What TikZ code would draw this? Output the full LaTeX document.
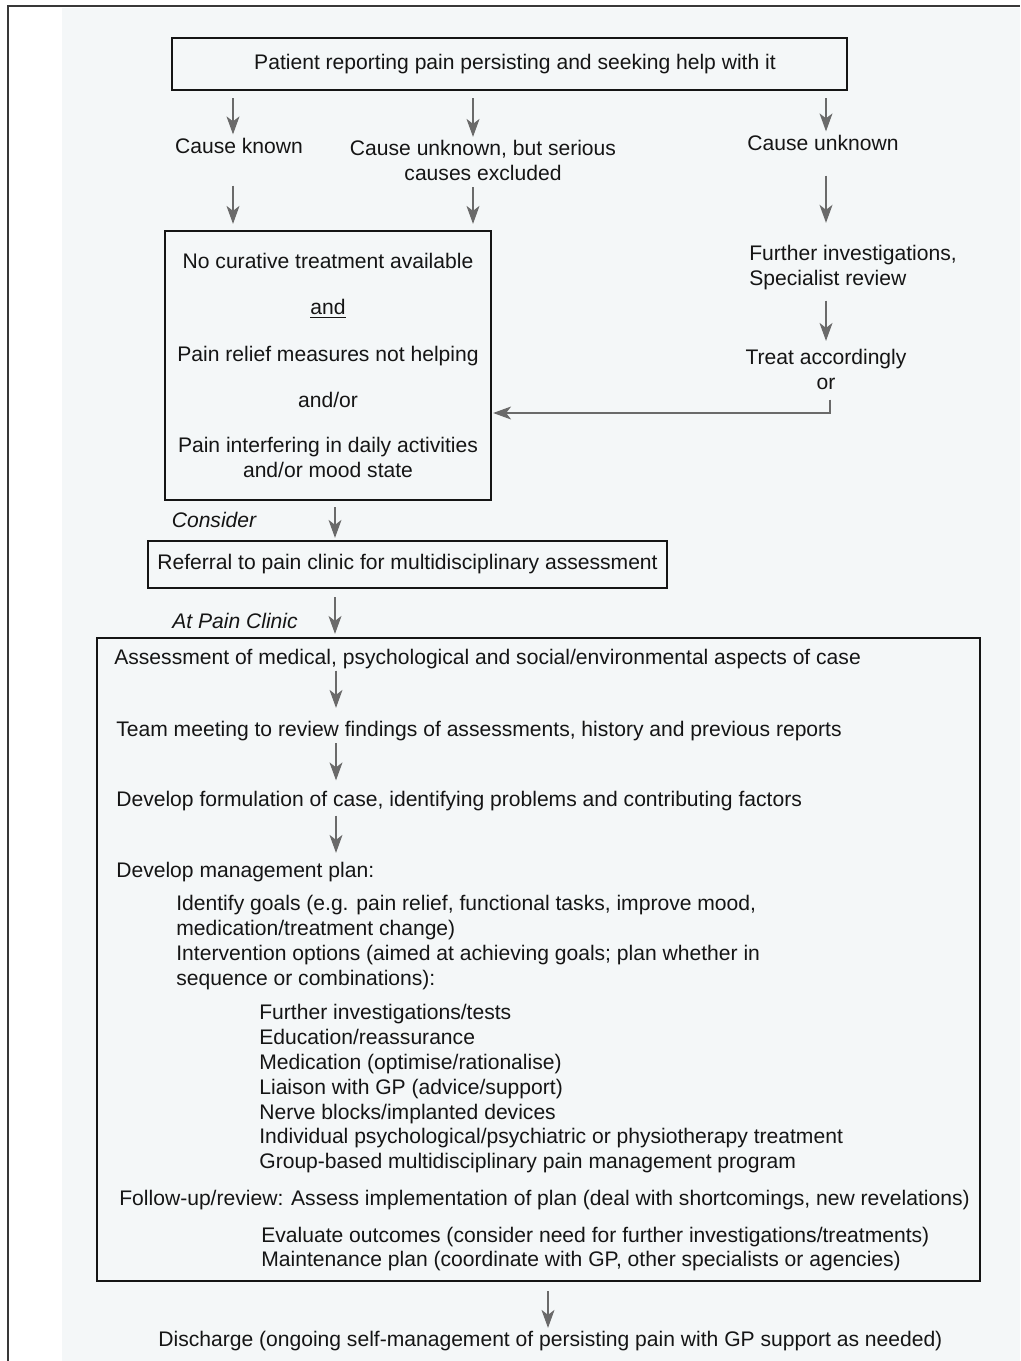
\documentclass[tikz,border=0pt]{standalone}
\usepackage{fontspec}
\setmainfont{Liberation Sans}
\usetikzlibrary{arrows.meta}
\definecolor{ink}{HTML}{151515}
\definecolor{arrowgray}{HTML}{6A6A6A}
\definecolor{paper}{HTML}{F4F7F8}
\begin{document}
\begin{tikzpicture}[x=0.02cm, y=-0.02cm,
  every node/.style={font=\fontsize{12}{14.23}\selectfont, text=ink, inner sep=0pt},
  box/.style={draw=ink, line width=1.3pt},
  txt/.style={anchor=base west},
  ctr/.style={anchor=base},
  arr/.style={draw=arrowgray, line width=0.7pt, -{Stealth[length=0.36cm, width=0.26cm, inset=0.1cm]}},
  lab/.style={anchor=base, font=\fontsize{12}{14.23}\selectfont\itshape}
]
\useasboundingbox (0,0) rectangle (1020,1361);
\fill[paper] (62,8) rectangle (1020,1361);
\draw[ink!85, line width=1.1pt] (8,1361) -- (8,6) -- (1020,6);

% columns for arrows
\coordinate (xa) at (233,0);
\coordinate (xb) at (473,0);
\coordinate (xc) at (826,0);
\coordinate (xm) at (335,0);
\coordinate (xi) at (336,0);
\coordinate (xd) at (548,0);
\coordinate (xo) at (830,413);

% top part
\node[box, minimum width=13.5cm, minimum height=1.04cm] (p1) at (509.5,64) {\hspace*{0.22cm}Patient reporting pain persisting and seeking help with it};
\node[ctr] (ck) at (239,154) {Cause known};
\node[align=center] (cu) at (483,160) {Cause unknown, but serious\\causes excluded};
\node[ctr] (cn) at (823,151) {Cause unknown};

\node[box, align=center, minimum width=6.52cm, minimum height=5.38cm] (box2) at (328,365.5)
  {No curative treatment available\\[0.42cm]\underline{and}\\[0.44cm]Pain relief measures not helping\\[0.42cm]and/or\\[0.4cm]Pain interfering in daily activities\\and/or mood state};

\node[align=left, anchor=west] (fi) at (749,268) {Further investigations,\\Specialist review};
\node[align=center] (tr) at (826,369) {Treat accordingly\\or};

\node[lab] (cons) at (214,527) {Consider};
\node[box, minimum width=10.38cm, minimum height=0.94cm] (box3) at (407.5,564.5) {Referral to pain clinic for multidisciplinary assessment};
\node[lab] (apc) at (235,628) {At Pain Clinic};

% big box
\node[box, minimum width=17.66cm, minimum height=12.86cm] (big) at (538.5,959.5) {};
\node[txt] (a1) at (114,664) {Assessment of medical, psychological and social/environmental aspects of case};
\node[txt] (a2) at (116,736) {Team meeting to review findings of assessments, history and previous reports};
\node[txt] (a3) at (116,806) {Develop formulation of case, identifying problems and contributing factors};
\node[txt] (a4) at (116,877) {Develop management plan:};
\node[txt] (g1) at (176,910) {Identify goals (e.g. pain relief, functional tasks, improve mood,};
\node[txt] (g2) at (176,935) {medication/treatment change)};
\node[txt] (g3) at (176,960) {Intervention options (aimed at achieving goals; plan whether in};
\node[txt] (g4) at (176,985) {sequence or combinations):};
\node[txt] (o1) at (259,1019) {Further investigations/tests};
\node[txt] (o2) at (259,1044) {Education/reassurance};
\node[txt] (o3) at (259,1069) {Medication (optimise/rationalise)};
\node[txt] (o4) at (259,1094) {Liaison with GP (advice/support)};
\node[txt] (o5) at (259,1119) {Nerve blocks/implanted devices};
\node[txt] (o6) at (259,1143) {Individual psychological/psychiatric or physiotherapy treatment};
\node[txt] (o7) at (259,1168) {Group-based multidisciplinary pain management program};
\node[txt] (f1) at (119,1205) {Follow-up/review: Assess implementation of plan (deal with shortcomings, new revelations)};
\node[txt] (e1) at (261,1242) {Evaluate outcomes (consider need for further investigations/treatments)};
\node[txt] (e2) at (261,1266) {Maintenance plan (coordinate with GP, other specialists or agencies)};

\node[txt] (dis) at (158,1346) {Discharge (ongoing self-management of persisting pain with GP support as needed)};

% connectors
\draw[arr, shorten <=0.14cm, shorten >=0.08cm] (p1.south -| xa) -- (ck.north -| xa);
\draw[arr, shorten <=0.14cm, shorten >=0.05cm] (p1.south -| xb) -- (cu.north -| xb);
\draw[arr, shorten <=0.14cm, shorten >=0.08cm] (p1.south -| xc) -- (cn.north -| xc);
\draw[arr, shorten <=0.62cm, shorten >=0.12cm] (ck.south -| xa) -- (box2.north -| xa);
\draw[arr, shorten <=0.13cm, shorten >=0.12cm] (cu.south -| xb) -- (box2.north -| xb);
\draw[arr, shorten <=0.48cm, shorten >=0.45cm] (cn.south -| xc) -- (fi.north -| xc);
\draw[arr, shorten <=0.2cm, shorten >=0.15cm] (fi.south -| xc) -- (tr.north -| xc);
\draw[arr, shorten <=0.2cm, shorten >=0.02cm] (tr.south -| xo) |- (box2.east |- xo);
\draw[arr, shorten <=0.12cm, shorten >=0.04cm] (box2.south -| xm) -- (box3.north -| xm);
\draw[arr, shorten <=0.16cm, shorten >=0.06cm] (box3.south -| xm) -- (big.north -| xm);
\draw[arr, shorten <=0.04cm, shorten >=0.25cm] (a1.south -| xi) -- (a2.north -| xi);
\draw[arr, shorten <=0.05cm, shorten >=0.2cm] (a2.south -| xi) -- (a3.north -| xi);
\draw[arr, shorten <=0.1cm, shorten >=0.17cm] (a3.south -| xi) -- (a4.north -| xi);
\draw[arr, shorten <=0.18cm, shorten >=0.05cm] (big.south -| xd) -- (dis.north -| xd);
\end{tikzpicture}
\end{document}
